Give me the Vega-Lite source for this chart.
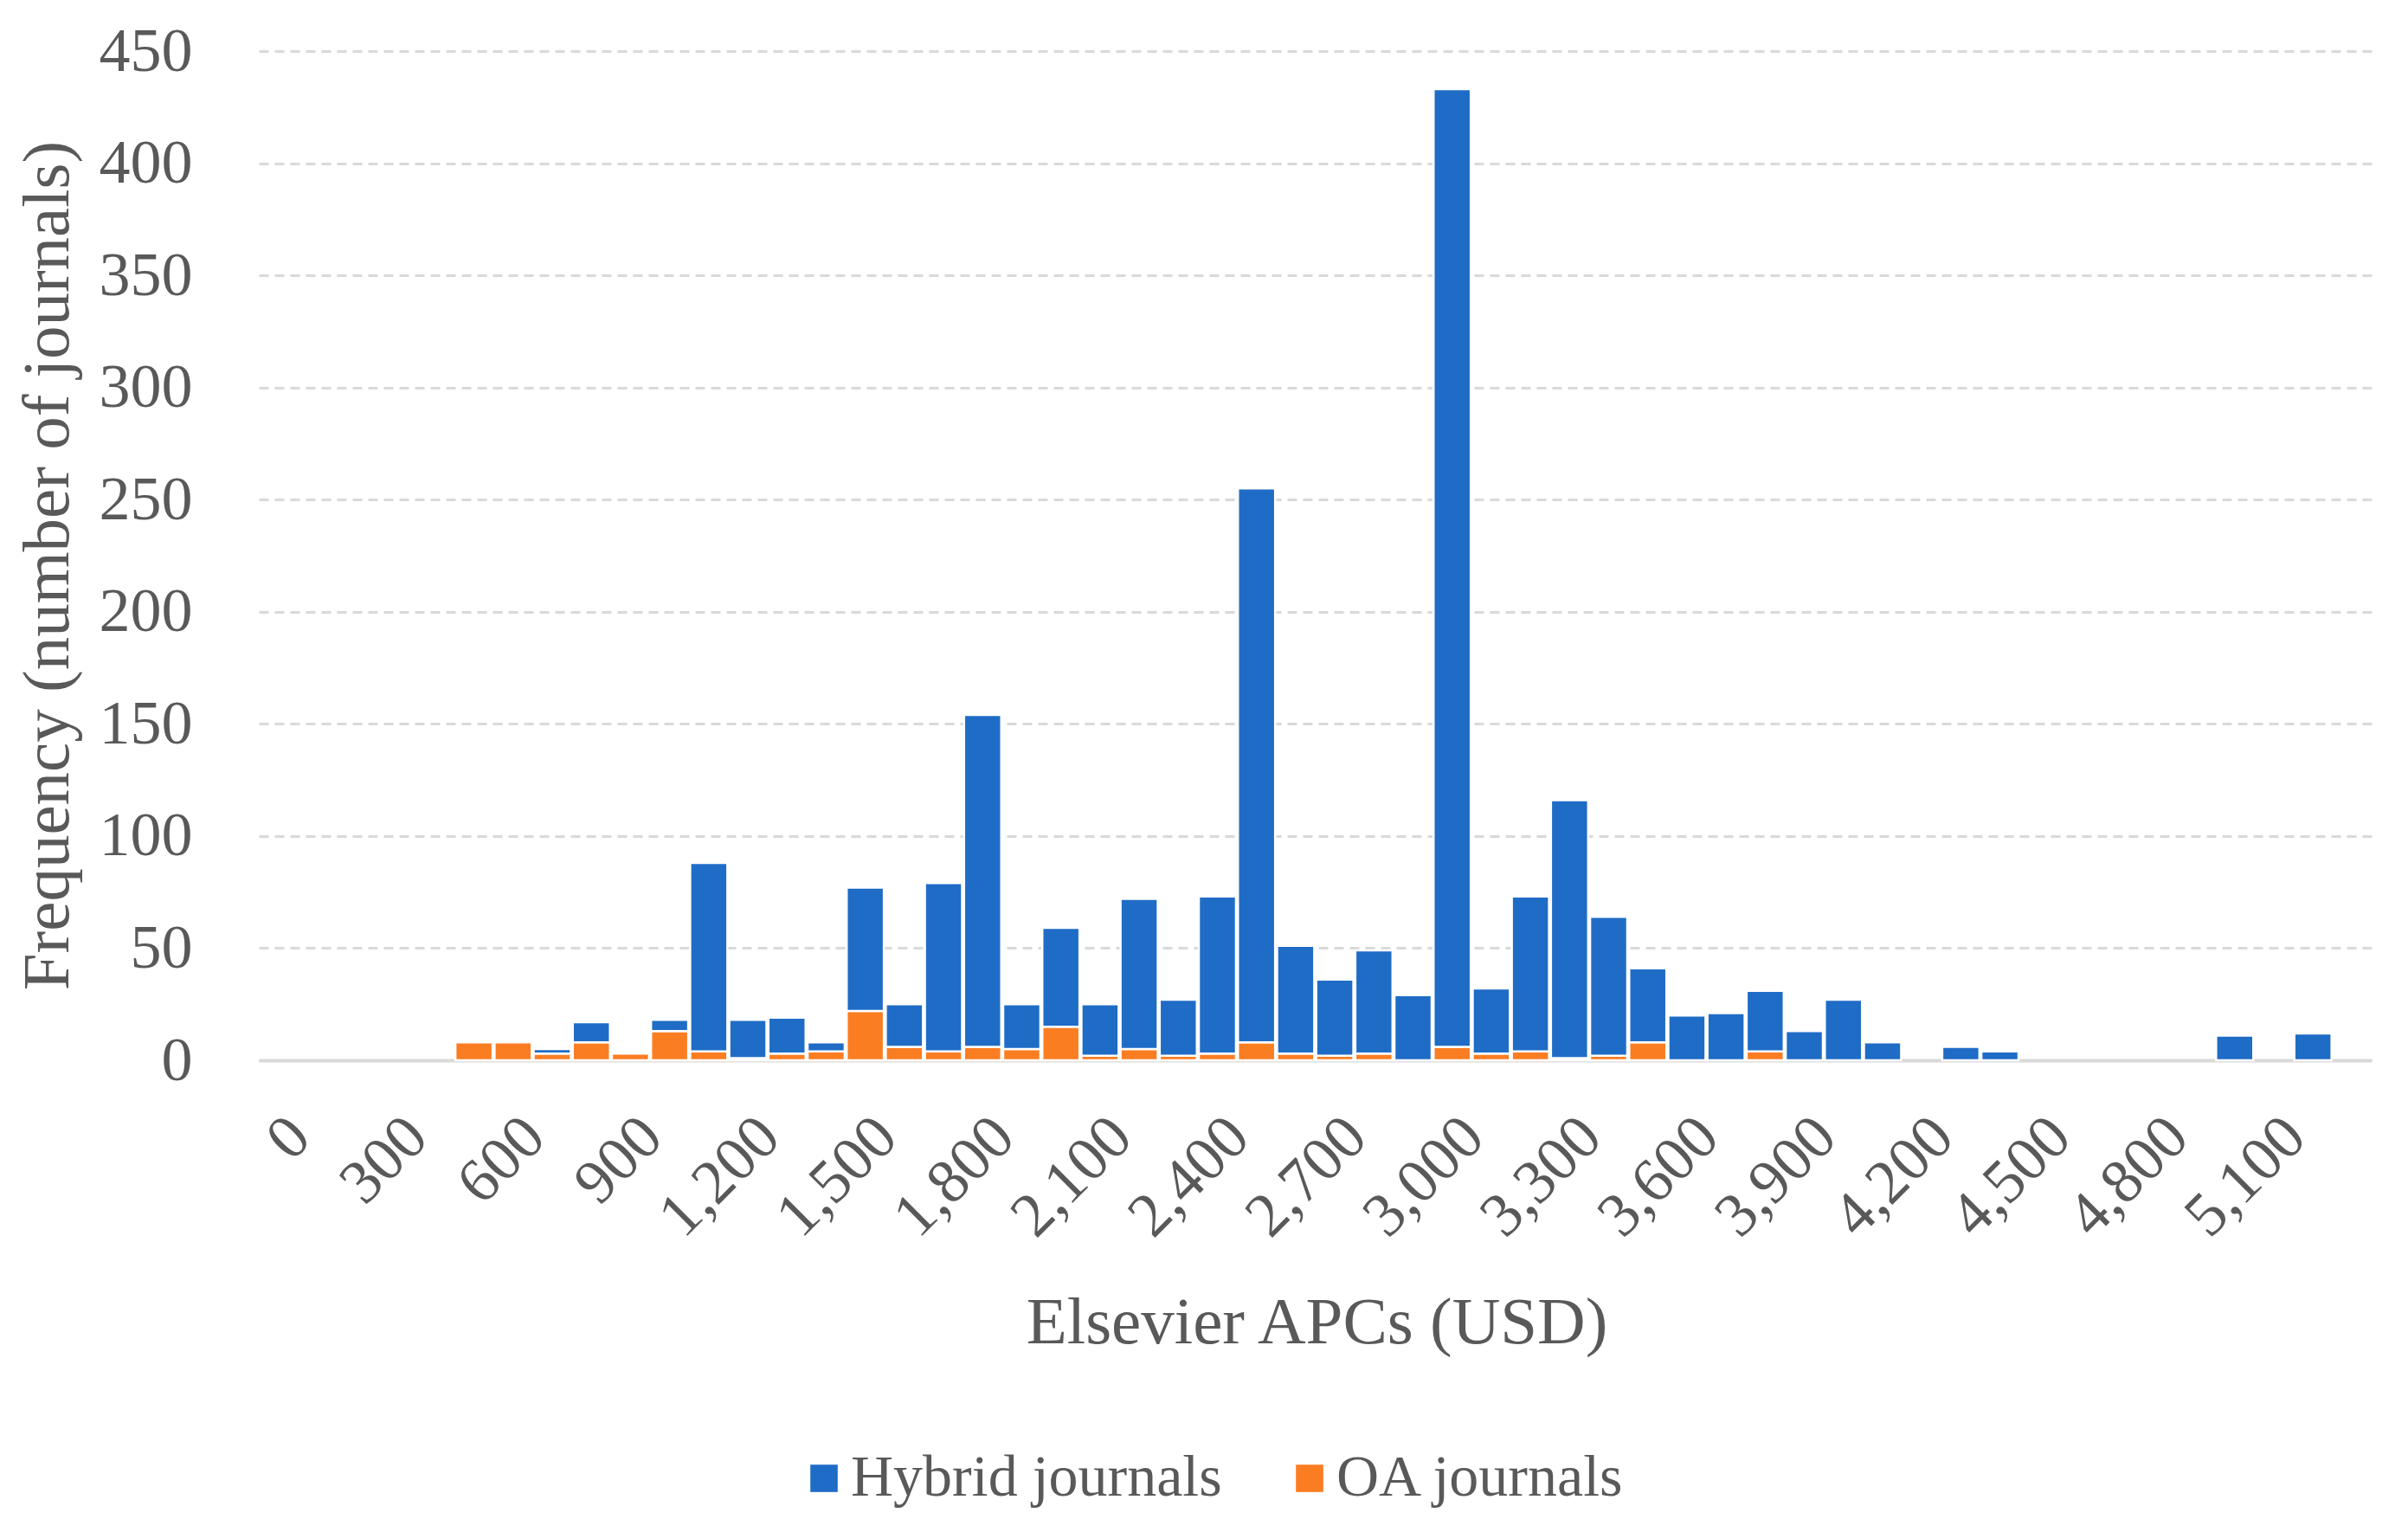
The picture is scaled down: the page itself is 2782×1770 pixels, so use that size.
{
  "$schema": "https://vega.github.io/schema/vega-lite/v6.json",
  "width": 2441,
  "height": 1166,
  "autosize": {"type": "none"},
  "padding": {"left": 299, "top": 59, "right": 42, "bottom": 545},
  "background": "white",
  "config": {
    "view": {"stroke": null},
    "font": "Liberation Serif",
    "axis": {"labelColor": "#595959", "titleColor": "#595959", "titleFontWeight": "normal"},
    "legend": {"labelColor": "#595959"}
  },
  "data": {
    "values": [
      {"apc": 500, "type": "OA journals", "n": 8},
      {"apc": 600, "type": "OA journals", "n": 8},
      {"apc": 700, "type": "OA journals", "n": 3},
      {"apc": 700, "type": "Hybrid journals", "n": 2},
      {"apc": 800, "type": "OA journals", "n": 8},
      {"apc": 800, "type": "Hybrid journals", "n": 9},
      {"apc": 900, "type": "OA journals", "n": 3},
      {"apc": 1000, "type": "OA journals", "n": 13},
      {"apc": 1000, "type": "Hybrid journals", "n": 5},
      {"apc": 1100, "type": "OA journals", "n": 4},
      {"apc": 1100, "type": "Hybrid journals", "n": 84},
      {"apc": 1200, "type": "OA journals", "n": 1},
      {"apc": 1200, "type": "Hybrid journals", "n": 17},
      {"apc": 1300, "type": "OA journals", "n": 3},
      {"apc": 1300, "type": "Hybrid journals", "n": 16},
      {"apc": 1400, "type": "OA journals", "n": 4},
      {"apc": 1400, "type": "Hybrid journals", "n": 4},
      {"apc": 1500, "type": "OA journals", "n": 22},
      {"apc": 1500, "type": "Hybrid journals", "n": 55},
      {"apc": 1600, "type": "OA journals", "n": 6},
      {"apc": 1600, "type": "Hybrid journals", "n": 19},
      {"apc": 1700, "type": "OA journals", "n": 4},
      {"apc": 1700, "type": "Hybrid journals", "n": 75},
      {"apc": 1800, "type": "OA journals", "n": 6},
      {"apc": 1800, "type": "Hybrid journals", "n": 148},
      {"apc": 1900, "type": "OA journals", "n": 5},
      {"apc": 1900, "type": "Hybrid journals", "n": 20},
      {"apc": 2000, "type": "OA journals", "n": 15},
      {"apc": 2000, "type": "Hybrid journals", "n": 44},
      {"apc": 2100, "type": "OA journals", "n": 2},
      {"apc": 2100, "type": "Hybrid journals", "n": 23},
      {"apc": 2200, "type": "OA journals", "n": 5},
      {"apc": 2200, "type": "Hybrid journals", "n": 67},
      {"apc": 2300, "type": "OA journals", "n": 2},
      {"apc": 2300, "type": "Hybrid journals", "n": 25},
      {"apc": 2400, "type": "OA journals", "n": 3},
      {"apc": 2400, "type": "Hybrid journals", "n": 70},
      {"apc": 2500, "type": "OA journals", "n": 8},
      {"apc": 2500, "type": "Hybrid journals", "n": 247},
      {"apc": 2600, "type": "OA journals", "n": 3},
      {"apc": 2600, "type": "Hybrid journals", "n": 48},
      {"apc": 2700, "type": "OA journals", "n": 2},
      {"apc": 2700, "type": "Hybrid journals", "n": 34},
      {"apc": 2800, "type": "OA journals", "n": 3},
      {"apc": 2800, "type": "Hybrid journals", "n": 46},
      {"apc": 2900, "type": "Hybrid journals", "n": 29},
      {"apc": 3000, "type": "OA journals", "n": 6},
      {"apc": 3000, "type": "Hybrid journals", "n": 427},
      {"apc": 3100, "type": "OA journals", "n": 3},
      {"apc": 3100, "type": "Hybrid journals", "n": 29},
      {"apc": 3200, "type": "OA journals", "n": 4},
      {"apc": 3200, "type": "Hybrid journals", "n": 69},
      {"apc": 3300, "type": "OA journals", "n": 1},
      {"apc": 3300, "type": "Hybrid journals", "n": 115},
      {"apc": 3400, "type": "OA journals", "n": 2},
      {"apc": 3400, "type": "Hybrid journals", "n": 62},
      {"apc": 3500, "type": "OA journals", "n": 8},
      {"apc": 3500, "type": "Hybrid journals", "n": 33},
      {"apc": 3600, "type": "Hybrid journals", "n": 20},
      {"apc": 3700, "type": "Hybrid journals", "n": 21},
      {"apc": 3800, "type": "OA journals", "n": 4},
      {"apc": 3800, "type": "Hybrid journals", "n": 27},
      {"apc": 3900, "type": "Hybrid journals", "n": 13},
      {"apc": 4000, "type": "Hybrid journals", "n": 27},
      {"apc": 4100, "type": "Hybrid journals", "n": 8},
      {"apc": 4300, "type": "Hybrid journals", "n": 6},
      {"apc": 4400, "type": "Hybrid journals", "n": 4},
      {"apc": 5000, "type": "Hybrid journals", "n": 11},
      {"apc": 5200, "type": "Hybrid journals", "n": 12}
    ]
  },
  "mark": {"type": "bar", "stroke": "white", "strokeWidth": 2.5},
  "encoding": {
    "x": {
      "field": "apc",
      "type": "ordinal",
      "scale": {
        "domain": [0, 100, 200, 300, 400, 500, 600, 700, 800, 900, 1000, 1100, 1200, 1300, 1400, 1500, 1600, 1700, 1800, 1900, 2000, 2100, 2200, 2300, 2400, 2500, 2600, 2700, 2800, 2900, 3000, 3100, 3200, 3300, 3400, 3500, 3600, 3700, 3800, 3900, 4000, 4100, 4200, 4300, 4400, 4500, 4600, 4700, 4800, 4900, 5000, 5100, 5200, 5300],
        "paddingInner": 0.05
      },
      "axis": {
        "title": "Elsevier APCs (USD)",
        "titleFontSize": 77,
        "titleX": 1222,
        "titleY": 303,
        "titleBaseline": "middle",
        "labelFontSize": 72,
        "labelAngle": -45,
        "labelPadding": 52,
        "labelExpr": "datum.value % 300 == 0 ? format(datum.value, ',') : ''",
        "ticks": false,
        "domainColor": "#d9d9d9",
        "domainWidth": 4
      }
    },
    "y": {
      "field": "n",
      "type": "quantitative",
      "aggregate": "sum",
      "stack": "zero",
      "scale": {"domain": [0, 450], "nice": false},
      "axis": {
        "title": "Frequency (number of journals)",
        "titleFontSize": 77,
        "titleX": -244,
        "titleY": 594,
        "titleBaseline": "middle",
        "labelFontSize": 72,
        "labelPadding": 77,
        "values": [0, 50, 100, 150, 200, 250, 300, 350, 400, 450],
        "ticks": false,
        "domain": false,
        "gridColor": "#d9d9d9",
        "gridWidth": 3,
        "gridDash": [11, 7]
      }
    },
    "color": {
      "field": "type",
      "type": "nominal",
      "scale": {"domain": ["Hybrid journals", "OA journals"], "range": ["#1f6cc6", "#fb7d22"]},
      "legend": {
        "title": null,
        "orient": "none",
        "direction": "horizontal",
        "legendX": 619,
        "legendY": 1615,
        "labelFontSize": 68,
        "labelLimit": 0,
        "symbolType": "square",
        "symbolSize": 1000,
        "symbolStrokeWidth": 0,
        "labelOffset": -3,
        "columnPadding": 67
      }
    },
    "order": {"field": "type", "sort": "descending"}
  }
}
